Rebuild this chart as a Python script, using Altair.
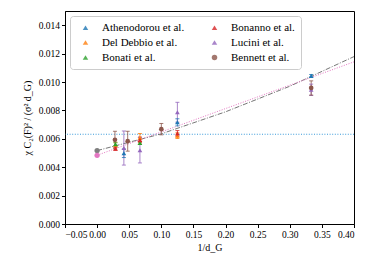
import altair as alt
import pandas as pd

# ---- data ----
series_names = ["Athenodorou et al.", "Del Debbio et al.", "Bonati et al.",
                "Bonanno et al.", "Lucini et al.", "Bennett et al."]
series_colors = ["#1f77b4", "#ff7f0e", "#2ca02c", "#d62728", "#9467bd", "#8c564b"]
series_shapes = ["triangle-up", "triangle-up", "triangle-up", "triangle-up", "triangle-up", "circle"]

ath_x = [1/3, 1/8, 1/24]
ath_y = [0.01043, 0.00716, 0.00498]
ath_e = [0.00010, 0.00025, 0.00030]

dd_x = [1/8, 1/15, 1/35]
dd_y = [0.00622, 0.00607, 0.00556]
dd_e = [0.00020, 0.00030, 0.00020]

bonati_x = [1/15, 1/35]
bonati_y = [0.00570, 0.00562]
bonati_e = [0.00010, 0.00010]

bonanno_x = [1/8, 1/15, 1/35]
bonanno_y = [0.00638, 0.00592, 0.00530]
bonanno_e = [0.00020, 0.00020, 0.00010]

lucini_x = [1/3, 1/8, 1/15, 1/24]
lucini_y = [0.00945, 0.00787, 0.00520, 0.00535]
lucini_e = [0.00040, 0.00070, 0.00090, 0.00120]

bennett_x = [1/3, 1/10, 1/21, 1/36]
bennett_y = [0.00958, 0.00668, 0.00583, 0.00593]
bennett_e = [0.00050, 0.00040, 0.00070, 0.00060]

# fit curves / extrapolations
fit1_x = [0.0, 0.1, 0.2, 0.3, 0.4]
fit1_y = [0.00517, 0.00635, 0.00790, 0.00970, 0.01179]
fit2_x = [0.0, 0.4]
fit2_y = [0.00484, 0.01142]
gray_x, gray_y, gray_e = [0.0], [0.00517], [0.00010]
pink_x, pink_y, pink_e = [0.0], [0.00484], [0.00008]
hline_y = 0.00632

x_ticks = [-0.05, 0.0, 0.05, 0.10, 0.15, 0.20, 0.25, 0.30, 0.35, 0.40]
y_ticks = [0.0, 0.002, 0.004, 0.006, 0.008, 0.010, 0.012, 0.014]

# ---- tables ----
col_map = dict(zip(series_names, series_colors))
rows = []
for name, xs_, ys_, es_ in [
    (series_names[0], ath_x, ath_y, ath_e),
    (series_names[1], dd_x, dd_y, dd_e),
    (series_names[2], bonati_x, bonati_y, bonati_e),
    (series_names[3], bonanno_x, bonanno_y, bonanno_e),
    (series_names[4], lucini_x, lucini_y, lucini_e),
    (series_names[5], bennett_x, bennett_y, bennett_e),
]:
    for x, y, e in zip(xs_, ys_, es_):
        rows.append({"series": name, "x": x, "y": y, "lo": y - e, "hi": y + e,
                     "col": col_map[name]})
df = pd.DataFrame(rows)

fit1 = pd.DataFrame({"x": fit1_x, "y": fit1_y})
fit2 = pd.DataFrame({"x": fit2_x, "y": fit2_y})


def ext_df(xv, yv, ev):
    return pd.DataFrame({"x": xv, "y": yv,
                         "lo": [a - b for a, b in zip(yv, ev)],
                         "hi": [a + b for a, b in zip(yv, ev)]})


gray = ext_df(gray_x, gray_y, gray_e)
pink = ext_df(pink_x, pink_y, pink_e)

FONT = "Liberation Serif"

xs = alt.Scale(domain=[-0.05, 0.40], nice=False, zero=False)
ys = alt.Scale(domain=[0, 0.015], nice=False, zero=False)
xaxis = alt.Axis(values=x_ticks, format=".2f", title="1/d_G", labelOverlap=False)
yaxis = alt.Axis(values=y_ticks, format=".3f", labelOverlap=False,
                 title="χ C₂(F)² / (σ² d_G)")

X = alt.X("x:Q", scale=xs, axis=xaxis)


def Yf(field):
    return alt.Y(field, scale=ys, axis=yaxis)


cscale = alt.Scale(domain=series_names, range=series_colors)
sscale = alt.Scale(domain=series_names, range=series_shapes)
leg = alt.Legend(title=None, orient="top-left", columns=2,
                 offset=5, padding=6, columnPadding=20,
                 rowPadding=3, symbolSize=30, symbolOffset=4,
                 labelOffset=11, labelFontSize=11, labelFont=FONT,
                 strokeColor="#cccccc", fillColor="white",
                 cornerRadius=3, labelLimit=200)

color_leg = alt.Color("series:N", scale=cscale, legend=leg)
shape = alt.Shape("series:N", scale=sscale, legend=leg)
color_raw = alt.Color("col:N", scale=None)

hline = alt.Chart(pd.DataFrame({"y": [hline_y]})).mark_rule(
    color="#3a9ad9", strokeDash=[1, 1.6], strokeWidth=1
).encode(y=Yf("y:Q"))

l1 = alt.Chart(fit1).mark_line(color="#666666", strokeWidth=0.9,
                               strokeDash=[5, 1.5, 1, 1.5]).encode(x=X, y=Yf("y:Q"))
l2 = alt.Chart(fit2).mark_line(color="#e377c2", strokeWidth=1,
                               strokeDash=[1, 1.5]).encode(x=X, y=Yf("y:Q"))

err = alt.Chart(df).mark_rule(strokeWidth=1, opacity=0.8).encode(
    x=X, y=Yf("lo:Q"), y2="hi:Q", color=color_raw)
cap_lo = alt.Chart(df).mark_tick(orient="horizontal", size=4, thickness=1, opacity=0.8).encode(
    x=X, y=Yf("lo:Q"), color=color_raw)
cap_hi = alt.Chart(df).mark_tick(orient="horizontal", size=4, thickness=1, opacity=0.8).encode(
    x=X, y=Yf("hi:Q"), color=color_raw)
pts = alt.Chart(df).mark_point(filled=True, size=22, opacity=1).encode(
    x=X, y=Yf("y:Q"), color=color_leg, shape=shape)


def ext_layers(d, col):
    e = alt.Chart(d).mark_rule(strokeWidth=1, color=col).encode(
        x=X, y=Yf("lo:Q"), y2="hi:Q")
    p = alt.Chart(d).mark_point(filled=True, size=28, opacity=1, color=col).encode(
        x=X, y=Yf("y:Q"))
    return [e, p]


chart = alt.layer(hline, l1, l2, err, cap_lo, cap_hi,
                  *ext_layers(gray, "#7f7f7f"), *ext_layers(pink, "#e377c2"), pts).properties(
    width=289, height=213,
    autosize=alt.AutoSizeParams(type="none"),
    padding={"left": 57, "top": 3, "right": 12, "bottom": 32},
).configure_view(
    stroke="black", strokeWidth=1
).configure_axis(
    grid=False, domainColor="black", tickColor="black", labelColor="black",
    titleColor="black", labelFont=FONT, titleFont=FONT, labelFontSize=9.5,
    titleFontSize=10, titleFontWeight="normal", tickSize=3.5, labelPadding=2,
    domainWidth=1, tickWidth=1
).configure_axisY(titlePadding=6).configure_axisX(titlePadding=3)

chart.save("out.html", embed_options={"renderer": "svg", "actions": False})
